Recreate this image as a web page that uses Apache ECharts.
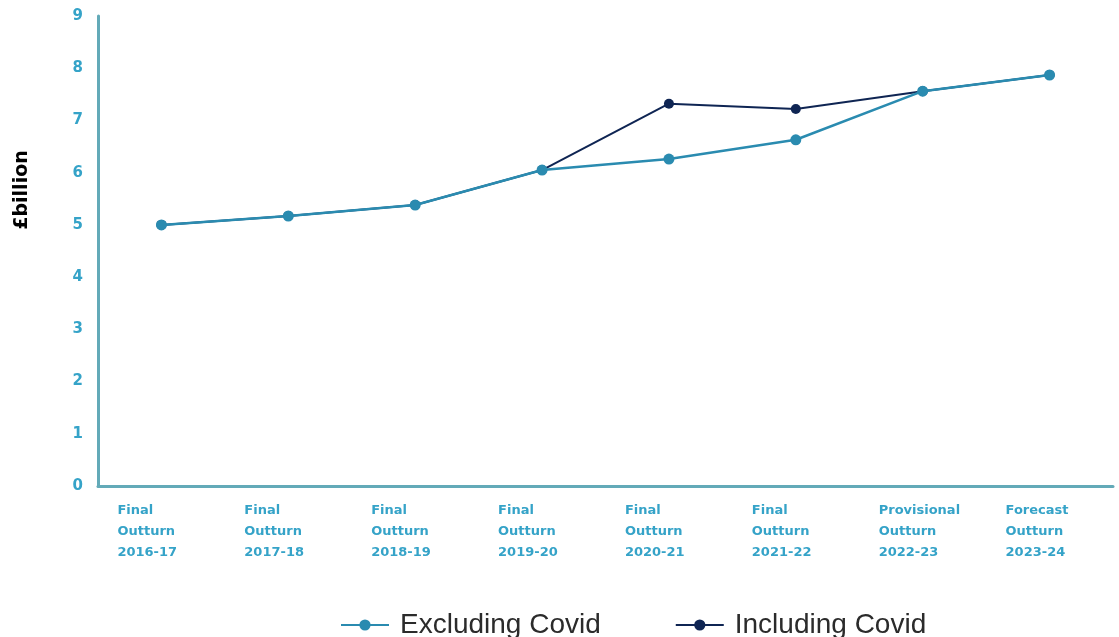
<!DOCTYPE html>
<html>
<head>
<meta charset="utf-8">
<script src="https://cdn.jsdelivr.net/npm/echarts@6/dist/echarts.min.js"></script>
<style>
  html, body { margin: 0; padding: 0; background: #ffffff; }
  #chart { width: 1119px; height: 637px; }
</style>
</head>
<body>
<div id="chart"></div>
<script>
// Spending by year, £ billion
const categories = [
  'Final\nOutturn\n2016-17',
  'Final\nOutturn\n2017-18',
  'Final\nOutturn\n2018-19',
  'Final\nOutturn\n2019-20',
  'Final\nOutturn\n2020-21',
  'Final\nOutturn\n2021-22',
  'Provisional\nOutturn\n2022-23',
  'Forecast\nOutturn\n2023-24'
];
const excludingCovid = [5.0, 5.17, 5.38, 6.05, 6.26, 6.63, 7.56, 7.87];
const includingCovid = [5.0, 5.17, 5.38, 6.05, 7.32, 7.22, 7.56, 7.87];
const yTicks = [0, 1, 2, 3, 4, 5, 6, 7, 8, 9];

const labelColor = '#35a3c8';
const axisColor = '#63aab8';
const excColor = '#2a8bb0';
const incColor = '#0f2553';
const boldFont = 'DejaVu Sans, Liberation Sans, Arial, sans-serif';

const chart = echarts.init(document.getElementById('chart'), null, { renderer: 'canvas' });

chart.setOption({
  animation: false,
  backgroundColor: '#ffffff',
  grid: { left: 98, right: 6, top: 16, bottom: 151, containLabel: false },
  legend: {
    bottom: -7,
    left: 335,
    itemWidth: 48,
    itemHeight: 14,
    itemGap: 74,
    textStyle: {
      fontFamily: 'Liberation Sans, Arial, sans-serif',
      fontSize: 28,
      color: '#2b2b2b',
      padding: [0, 0, 0, 6]
    },
    data: ['Excluding Covid', 'Including Covid']
  },
  xAxis: {
    type: 'category',
    data: categories,
    boundaryGap: true,
    axisLine: { show: true, onZero: false, lineStyle: { color: axisColor, width: 3 } },
    axisTick: { show: false },
    splitLine: { show: false },
    axisLabel: {
      interval: 0,
      margin: 14,
      formatter: function (v) {
        return v.split('\n').map(function (s) { return '{t|' + s + '}'; }).join('\n');
      },
      rich: {
        t: {
          width: 88,
          align: 'left',
          color: labelColor,
          fontFamily: boldFont,
          fontWeight: 'bold',
          fontSize: 13,
          lineHeight: 21
        }
      }
    }
  },
  yAxis: {
    type: 'value',
    min: yTicks[0],
    max: yTicks[yTicks.length - 1],
    interval: 1,
    name: '£billion',
    nameLocation: 'middle',
    nameGap: 66,
    nameRotate: 90,
    nameTextStyle: {
      color: '#000000',
      fontFamily: 'DejaVu Sans, Liberation Sans, Arial, sans-serif',
      fontWeight: 'bold',
      fontSize: 19,
      padding: [0, 0, 0, 122]
    },
    axisLine: { show: true, lineStyle: { color: axisColor, width: 3 } },
    axisTick: { show: false },
    splitLine: { show: false },
    axisLabel: {
      margin: 15,
      color: labelColor,
      fontFamily: boldFont,
      fontWeight: 'bold',
      fontSize: 15
    }
  },
  series: [
    {
      name: 'Including Covid',
      type: 'line',
      data: includingCovid,
      symbol: 'circle',
      symbolSize: 10,
      lineStyle: { color: incColor, width: 2 },
      itemStyle: { color: incColor },
      z: 2
    },
    {
      name: 'Excluding Covid',
      type: 'line',
      data: excludingCovid,
      symbol: 'circle',
      symbolSize: 11,
      lineStyle: { color: excColor, width: 2.5 },
      itemStyle: { color: excColor },
      z: 3
    }
  ]
});
</script>
</body>
</html>
